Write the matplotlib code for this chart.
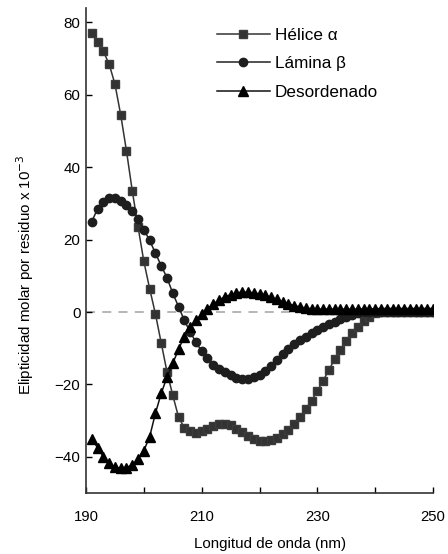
import numpy as np
import matplotlib
matplotlib.use('Agg')
import matplotlib.pyplot as plt

plt.rcParams['font.family'] = ['Liberation Sans', 'DejaVu Sans']

# longitud de onda (nm), 1 nm por punto
wl = list(range(191, 251))

helice = [77, 74.5, 72, 68.5, 63, 54.5, 44.5, 33.5, 23.5, 14,
          6.5, -0.5, -8.5, -16.5, -23, -29, -32, -33, -33.3, -33,
          -32.2, -31.4, -30.8, -30.8, -31.3, -32.2, -33.2, -34.2, -35, -35.5,
          -35.7, -35.4, -34.8, -33.8, -32.5, -31, -29, -26.8, -24.5, -21.8,
          -19, -16, -13, -10.4, -8, -5.8, -4, -2.5, -1.3, -0.3,
          0, 0, 0, 0, 0, 0, 0, 0, 0, 0]

lamina = [25, 28.5, 30.5, 31.5, 31.5, 30.8, 29.5, 27.8, 25.6, 22.8,
          19.8, 16.3, 12.8, 9.5, 5.2, 1.5, -2.3, -5.5, -8.3, -10.8,
          -12.8, -14.5, -15.7, -16.7, -17.5, -18.1, -18.5, -18.4, -18, -17.3,
          -16.2, -14.8, -13.2, -11.6, -10.2, -8.9, -7.8, -6.8, -5.9, -5,
          -4.2, -3.4, -2.7, -2, -1.3, -0.7, -0.2, 0, 0, 0,
          0, 0, 0, 0, 0, 0, 0, 0, 0, 0]

desorden = [-35, -37.5, -40, -41.8, -42.8, -43.2, -43, -42.2, -40.6, -38.3,
            -34.5, -28, -22.5, -18, -14.2, -10.3, -6.8, -4.2, -2.3, -0.6,
            0.9, 2.2, 3.3, 4.2, 4.8, 5.3, 5.5, 5.5, 5.3, 5,
            4.6, 4.1, 3.5, 2.9, 2.3, 1.8, 1.4, 1.1, 0.9, 0.8,
            0.8, 0.8, 0.8, 0.8, 0.8, 0.8, 0.8, 0.8, 0.8, 0.8,
            0.8, 0.8, 0.8, 0.8, 0.8, 0.8, 0.8, 0.8, 0.8, 0.8]

etiquetas = ['Hélice α', 'Lámina β', 'Desordenado']
xticks = [190, 210, 230, 250]
xminor = [200, 220, 240]
yticks = [-40, -20, 0, 20, 40, 60, 80]

fig = plt.figure(figsize=(4.48, 5.54), dpi=100)
ax = fig.add_axes([86 / 448, 61 / 554, 347 / 448, 485 / 554])

ax.plot([190, 250], [0, 0], color='#b0b0b0', ls=(0, (5, 4)), lw=1.3, zorder=1)

ax.plot(wl, helice, color='#333333', lw=1.1, marker='s', ms=6,
        mfc='#333333', mec='#3c3c3c', label=etiquetas[0], zorder=3)
ax.plot(wl, lamina, color='#222222', lw=1.1, marker='o', ms=6,
        mfc='#1e1e1e', mec='#1e1e1e', label=etiquetas[1], zorder=4)
ax.plot(wl, desorden, color='#111111', lw=1.1, marker='^', ms=7,
        mfc='black', mec='black', label=etiquetas[2], zorder=5)

ax.set_xlim(190, 250)
ax.set_ylim(-50, 84)
ax.set_xticks(xticks)
ax.set_xticks(xminor, minor=True)
ax.set_yticks(yticks)
ax.tick_params(axis='x', which='both', direction='in', length=4, width=1,
               labelsize=10.7, pad=12)
ax.tick_params(axis='y', direction='in', length=4, width=1, labelsize=10.9, pad=4)

for s in ['top', 'right']:
    ax.spines[s].set_visible(False)
for s in ['left', 'bottom']:
    ax.spines[s].set_linewidth(1.2)
    ax.spines[s].set_color('#333333')

ax.set_xlabel('Longitud de onda (nm)', fontsize=10.9)
ax.xaxis.set_label_coords(0.53, -0.09)
ax.xaxis.label.set_va('top')
ax.set_ylabel('Elipticidad molar por residuo x 10$^{-3}$', fontsize=10.9)
ax.yaxis.set_label_coords(-0.145, 0.45)

ax.legend(loc='upper left', bbox_to_anchor=(208 / 448, 1 - 19 / 554),
          bbox_transform=fig.transFigure, frameon=False, fontsize=12.3,
          handlelength=3.1, handletextpad=0.3, labelspacing=0.8,
          borderpad=0, numpoints=1)

fig.savefig('out.png', dpi=100)
